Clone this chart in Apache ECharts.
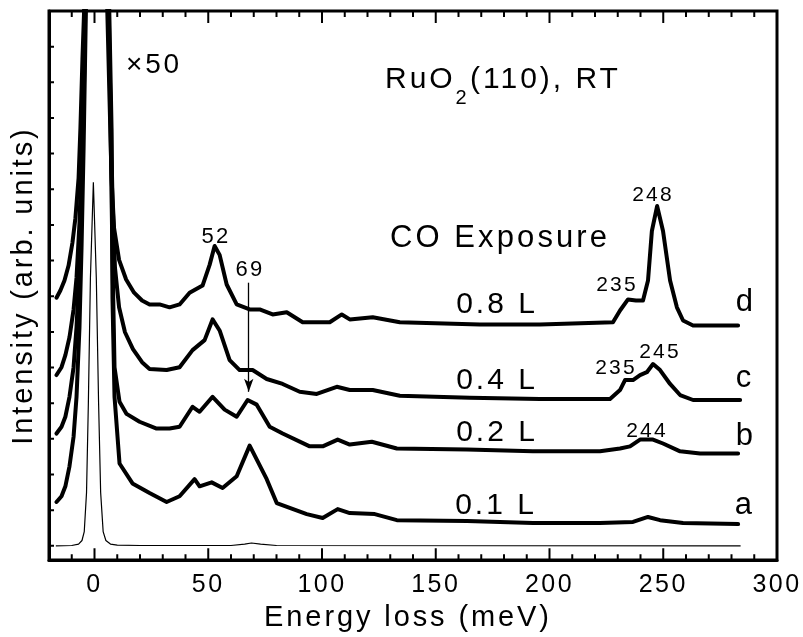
<!DOCTYPE html>
<html><head><meta charset="utf-8">
<script src="https://cdn.jsdelivr.net/npm/echarts@6/dist/echarts.min.js"></script>
<style>html,body{margin:0;padding:0;background:#fff}#c{width:803px;height:637px}</style>
</head><body><div id="c"></div>
<script>
// ---- data (energy loss meV, intensity arb. units) ----
const curveD = [[-16.7,6.96],[-15.0,7.16],[-13.2,7.44],[-11.4,7.86],[-9.7,8.50],[-8.4,9.19],[-7.0,10.31],[-6.2,11.70],[-5.3,13.65],[-4.4,15.32],[0.8,40],[5.5,15.32],[6.6,12.53],[7.5,10.31],[8.6,8.91],[10.8,8.02],[13.9,7.47],[17.4,7.10],[20.9,6.88],[24.2,6.77],[28.6,6.77],[33.0,6.69],[37.4,6.77],[41.8,7.10],[47.5,7.30],[50.6,7.88],[52.8,8.41],[55.0,8.16],[58.1,7.33],[62.5,6.77],[68.2,6.63],[72.6,6.63],[78.3,6.49],[84.5,6.55],[91.5,6.27],[103.4,6.27],[108.7,6.49],[112.2,6.35],[122.3,6.41],[134.2,6.27],[169.4,6.21],[195.8,6.21],[227.9,6.27],[231.0,6.60],[234.5,6.91],[238.0,6.88],[241.1,6.88],[243.3,7.44],[245.0,8.83],[247.3,9.53],[249.9,8.83],[253.0,7.44],[256.0,6.69],[258.7,6.32],[263.1,6.18],[282.9,6.18]];
const curveC = [[-16.7,4.79],[-14.5,5.01],[-12.8,5.35],[-11.0,5.85],[-9.2,6.63],[-7.9,7.52],[-6.6,9.05],[-5.7,10.86],[-4.8,13.37],[-4.2,15.32],[1.0,40],[5.9,15.32],[7.0,12.53],[7.9,9.75],[9.0,7.80],[10.8,6.69],[13.4,5.99],[16.9,5.52],[20.9,5.15],[24.2,4.96],[31.7,4.93],[37.4,5.01],[43.1,5.49],[48.4,5.77],[51.9,6.35],[55.0,6.04],[59.4,5.21],[63.8,4.93],[69.5,4.93],[75.7,4.68],[82.7,4.54],[90.2,4.32],[97.7,4.26],[106.5,4.46],[112.2,4.37],[122.3,4.37],[134.2,4.21],[165.0,4.15],[195.8,4.12],[226.6,4.12],[231.0,4.37],[233.2,4.65],[236.7,4.65],[239.8,4.79],[242.8,4.87],[245.5,5.10],[248.6,4.93],[253.0,4.54],[257.4,4.23],[263.1,4.09],[283.8,4.09]];
const curveB = [[-16.7,3.15],[-14.5,3.34],[-12.8,3.62],[-11.0,4.18],[-9.2,5.01],[-7.9,6.13],[-6.6,7.80],[-5.7,9.75],[-4.8,12.26],[-4.0,15.32],[1.2,40],[6.2,15.32],[7.0,11.98],[7.9,8.08],[8.8,5.01],[11.0,4.04],[14.1,3.70],[19.8,3.48],[27.3,3.29],[33.0,3.29],[37.4,3.34],[43.1,3.90],[46.2,3.76],[51.9,4.18],[57.2,3.82],[62.5,3.62],[67.3,4.09],[71.3,3.96],[77.0,3.34],[82.7,3.15],[94.6,2.79],[100.3,2.79],[106.9,2.98],[112.2,2.84],[121.9,2.92],[132.9,2.73],[163.7,2.70],[192.7,2.65],[222.2,2.65],[231.0,2.73],[235.4,2.79],[239.8,2.98],[245.5,2.98],[249.9,2.87],[257.4,2.65],[266.2,2.59],[282.9,2.59]];
const curveA = [[-16.7,1.23],[-14.5,1.39],[-12.8,1.67],[-11.0,2.23],[-9.2,3.06],[-7.9,4.18],[-6.6,6.13],[-5.7,8.36],[-4.8,11.14],[-3.7,15.32],[1.4,40],[6.4,15.32],[7.5,11.70],[7.9,6.96],[8.8,4.18],[11.0,2.31],[16.7,1.75],[24.2,1.48],[31.7,1.23],[37.4,1.39],[44.0,1.87],[46.2,1.67],[51.5,1.78],[56.3,1.62],[62.5,1.95],[68.2,2.81],[75.7,1.87],[80.1,1.20],[93.3,0.89],[100.3,0.78],[106.9,1.03],[112.2,0.92],[123.2,0.89],[132.9,0.72],[163.7,0.70],[192.7,0.64],[222.2,0.64],[236.7,0.67],[243.3,0.81],[248.6,0.72],[258.7,0.64],[282.9,0.61]];
const curveElastic = [[-17,0.0],[-10,0.01],[-7,0.05],[-5.5,0.15],[-4.5,0.4],[-3.5,1.5],[-2.7,4.0],[-1.8,7.5],[-0.5,10.2],[0.8,7.5],[1.8,4.0],[2.7,1.5],[3.8,0.4],[5.0,0.15],[7.0,0.05],[10,0.02],[20,0.01],[60,0.01],[66,0.05],[69,0.08],[73,0.05],[80,0.01],[284,0.0]];
const arrow69 = [[67.8,7.38],[67.8,4.32]];
const xMajorTicks = [0,50,100,150,200,250,300];
const xMinorTicks = [-10,10,20,30,40,60,70,80,90,110,120,130,140,160,170,180,190,210,220,230,240,260,270,280,290];
const yTicks = [0,1,2,3,4,5,6,7,8,9,10,11,12,13,14,15];

// ---- letter spacing to mimic the tracked typeface ----
const TRACK = 0.1;
(function(){
  const proto = CanvasRenderingContext2D.prototype;
  const orig = proto.fillText;
  proto.fillText = function(t,x,y,w){
    const m = /(\d+(?:\.\d+)?)px/.exec(this.font);
    if (m && ('letterSpacing' in this)) this.letterSpacing = (parseFloat(m[1])*TRACK).toFixed(1)+'px';
    const r = w===undefined ? orig.call(this,t,x,y) : orig.call(this,t,x,y,w);
    if ('letterSpacing' in this) this.letterSpacing = '0px';
    return r;
  };
})();

const FONT = '"Liberation Sans", Arial, sans-serif';
const X_MIN = -20, X_MAX = 300, Y_MIN = -0.4, Y_MAX = 15;
const GRID = {left:49, right:26, top:11, bottom:73};
const W = 803, H = 637;
// pixel -> data unit conversion of tick lengths
const pxPerX = (W - GRID.left - GRID.right) / (X_MAX - X_MIN);
const pxPerY = (H - GRID.top - GRID.bottom) / (Y_MAX - Y_MIN);
const chart = echarts.init(document.getElementById('c'));

function thick(data){
  return {type:'line', data, showSymbol:false, symbol:'none', clip:true,
    lineStyle:{color:'#000', width:4, join:'round', cap:'round'}, z:3};
}
const seriesB = thick(curveB);
seriesB.markLine = {animation:false, symbol:['none','arrow'], symbolSize:[7,13],
  lineStyle:{color:'#000', width:1.3, type:'solid'}, label:{show:false},
  data:[[{coord:arrow69[0]},{coord:arrow69[1]}]]};

// tick segments in data coordinates, separated by gaps
const GAP = ['-','-'];
const tickSegs = [];
xMajorTicks.forEach(v => { tickSegs.push([v, Y_MIN], [v, Y_MIN + 12/pxPerY], GAP, [v, Y_MAX], [v, Y_MAX - 12/pxPerY], GAP); });
xMinorTicks.forEach(v => { tickSegs.push([v, Y_MIN], [v, Y_MIN + 6/pxPerY], GAP, [v, Y_MAX], [v, Y_MAX - 6/pxPerY], GAP); });
yTicks.forEach(v => { tickSegs.push([X_MIN, v], [X_MIN + 5/pxPerX, v], GAP, [X_MAX, v], [X_MAX + 3/pxPerX, v], GAP); });
const tickSeries = {type:'line', data:tickSegs, showSymbol:false, symbol:'none', clip:false, connectNulls:false,
  lineStyle:{color:'#000', width:2}, z:8};

const txt = (text, x, y, size, align) => ({type:'text', x, y, z:10,
  style:{text, fontSize:size, fontFamily:FONT, fill:'#000', align:align||'center', verticalAlign:'middle'}});

chart.setOption({
  animation:false,
  backgroundColor:'#fff',
  grid:Object.assign({show:true, borderColor:'#000', borderWidth:3, backgroundColor:'transparent'}, GRID),
  xAxis:{type:'value', min:X_MIN, max:X_MAX, splitLine:{show:false}, axisTick:{show:false},
    axisLine:{show:true, onZero:false, lineStyle:{color:'#000', width:3}},
    axisLabel:{show:true, customValues:xMajorTicks, fontSize:25, fontFamily:FONT, color:'#000', margin:13},
    name:'Energy loss (meV)', nameLocation:'middle', nameGap:42,
    nameTextStyle:{fontSize:29, fontFamily:FONT, color:'#000', padding:[0,10,0,0]}},
  yAxis:{type:'value', min:Y_MIN, max:Y_MAX, splitLine:{show:false}, axisTick:{show:false}, axisLabel:{show:false},
    axisLine:{show:true, onZero:false, lineStyle:{color:'#000', width:3}},
    name:'Intensity (arb. units)', nameLocation:'middle', nameGap:11,
    nameTextStyle:{fontSize:29, fontFamily:FONT, color:'#000'}},
  series:[
    {type:'line', data:curveElastic, showSymbol:false, symbol:'none', clip:true,
      lineStyle:{color:'#000', width:1.2}, z:2},
    thick(curveA), seriesB, thick(curveC), thick(curveD),
    tickSeries
  ],
  graphic:[
    txt('×50', 154, 65, 28),
    txt('RuO', 385, 80, 30, 'left'),
    txt('2', 462, 98, 20),
    txt('(110), RT', 470, 80, 30, 'left'),
    txt('CO Exposure', 500, 238, 31),
    txt('0.8 L', 497, 305, 30),
    txt('0.4 L', 497, 381, 30),
    txt('0.2 L', 497, 433, 30),
    txt('0.1 L', 496, 506, 30),
    txt('d', 746, 302, 31),
    txt('c', 745, 378, 31),
    txt('b', 746, 436, 31),
    txt('a', 745, 505, 31),
    txt('52', 216, 237, 22),
    txt('69', 250, 270, 22),
    txt('248', 653, 195, 21),
    txt('235', 617, 285, 21),
    txt('235', 616, 368, 21),
    txt('245', 660, 352, 21),
    txt('244', 647, 431, 21)
  ]
});
</script></body></html>
